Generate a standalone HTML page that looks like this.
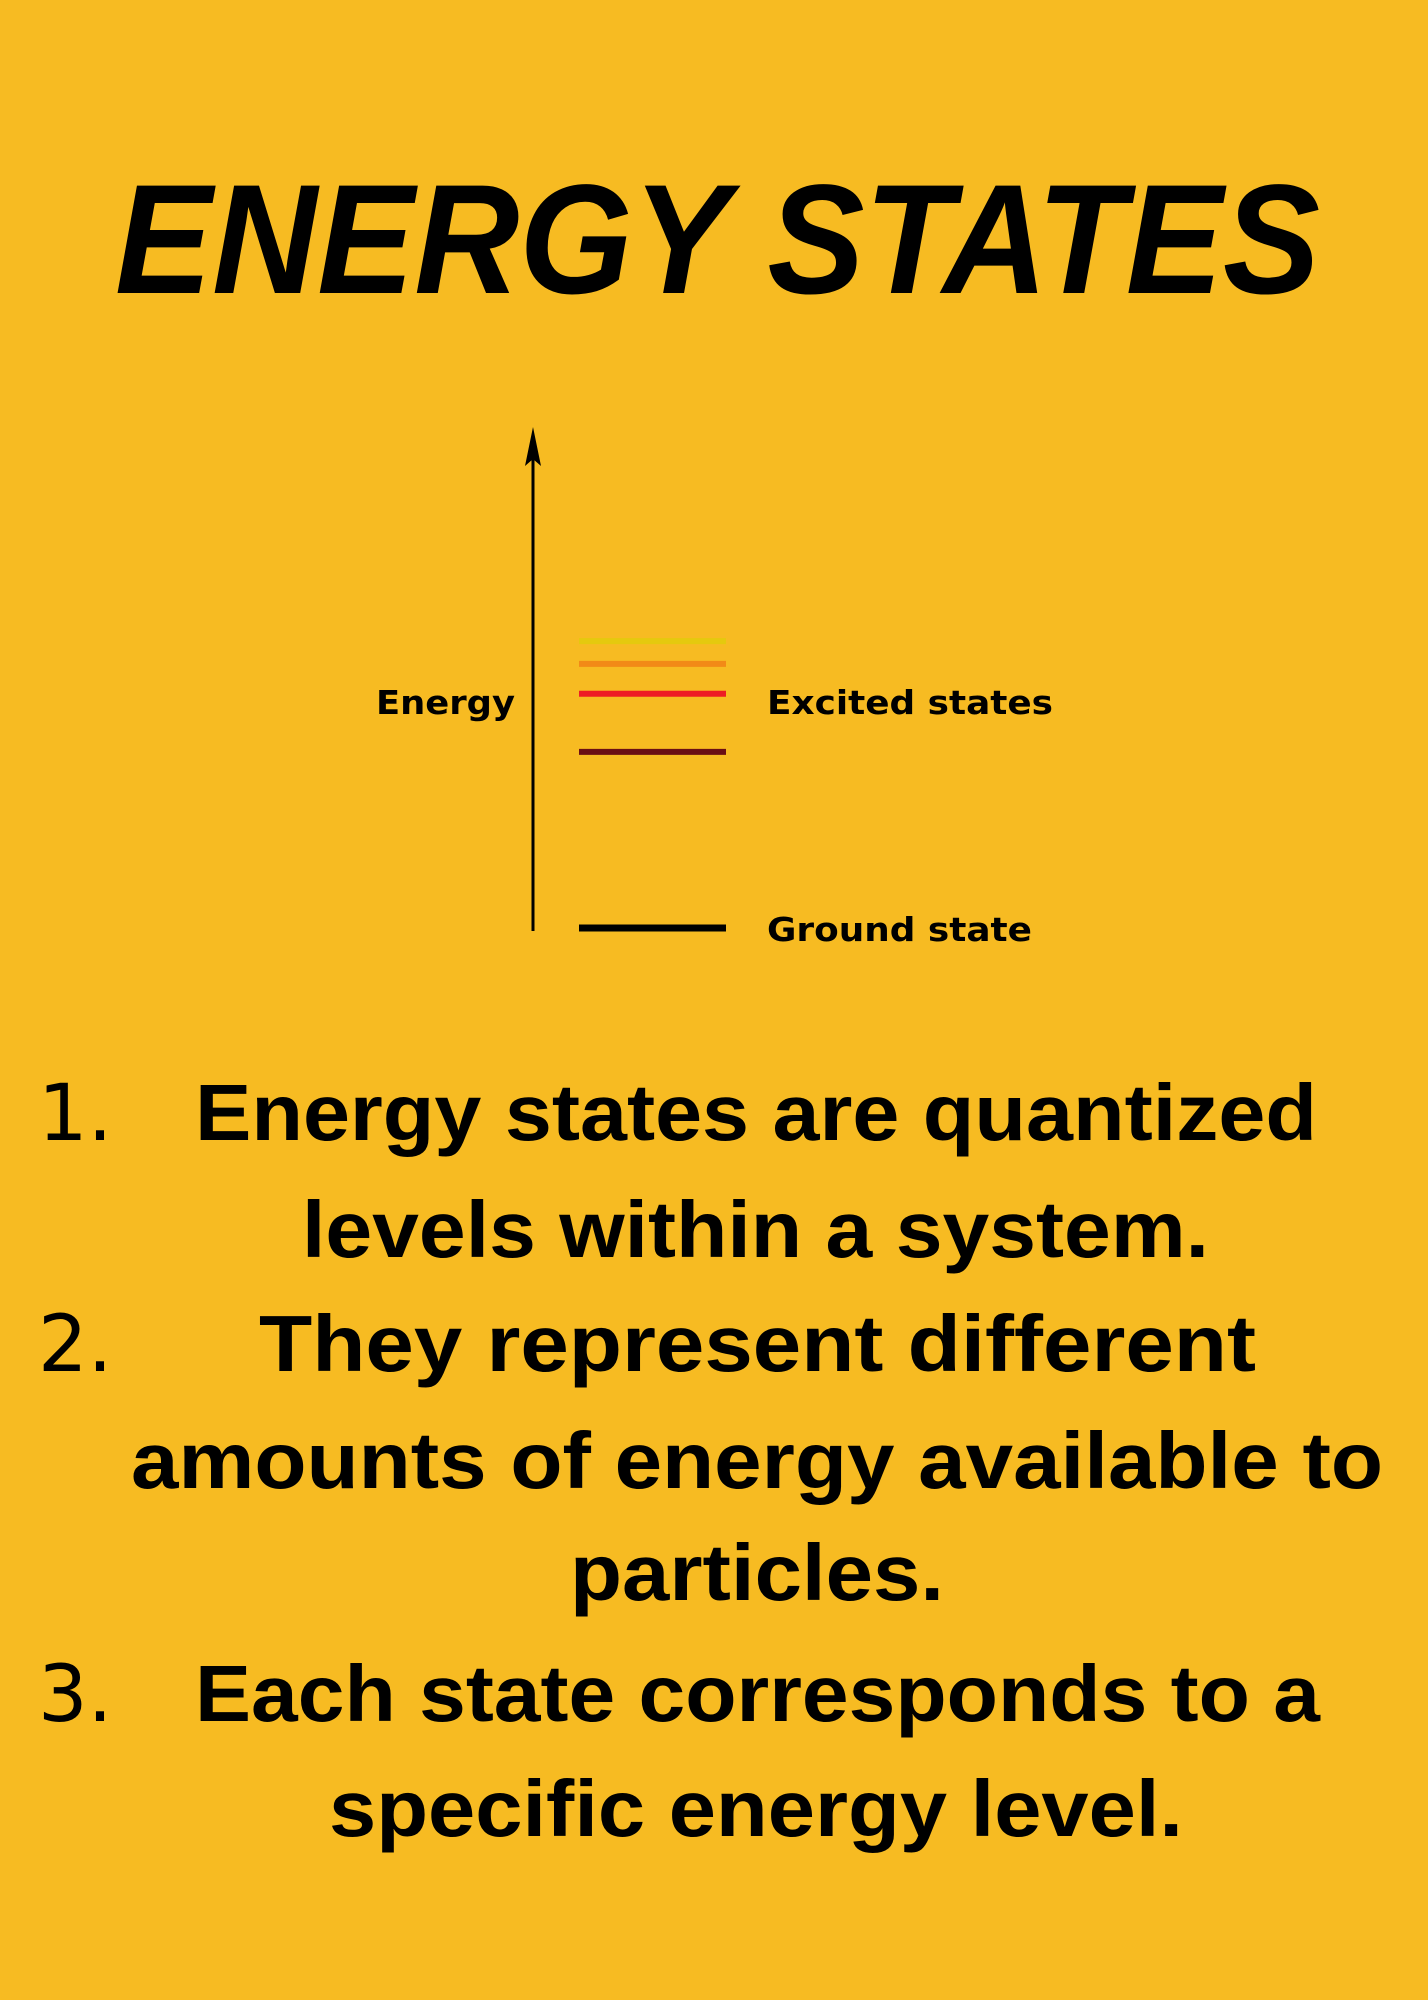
<!DOCTYPE html>
<html><head><meta charset="utf-8"><style>
html,body{margin:0;padding:0;background:#F7BB22;}
svg{display:block}
</style></head><body>
<svg width="1428" height="2000" viewBox="0 0 1428 2000">
<rect width="1428" height="2000" fill="#F7BB22"/>
<text x="115" y="293" font-family="Liberation Sans, sans-serif" font-weight="bold" font-style="italic" font-size="156" textLength="1205" lengthAdjust="spacingAndGlyphs" fill="#000">ENERGY STATES</text>
<g id="diagram">
<line x1="533" y1="440" x2="533" y2="931" stroke="#000" stroke-width="3"/>
<path d="M533 427 L541 466 L533 459 L525 466 Z" fill="#000"/>
<text x="376" y="714" font-family="DejaVu Sans, sans-serif" font-weight="bold" font-size="33" textLength="139" lengthAdjust="spacingAndGlyphs">Energy</text>
<text x="767" y="714" font-family="DejaVu Sans, sans-serif" font-weight="bold" font-size="33" textLength="286" lengthAdjust="spacingAndGlyphs">Excited states</text>
<text x="767" y="941" font-family="DejaVu Sans, sans-serif" font-weight="bold" font-size="33" textLength="265" lengthAdjust="spacingAndGlyphs">Ground state</text>
</g>
<g>
<g font-family="DejaVu Sans, sans-serif" font-size="78" fill="#000">
<text x="38" y="1140">1.</text>
<text x="38" y="1371">2.</text>
<text x="38" y="1721">3.</text>
</g>
<g font-family="Liberation Sans, sans-serif" font-weight="bold" font-size="80" fill="#000">
<text x="195" y="1140" textLength="1122" lengthAdjust="spacingAndGlyphs">Energy states are quantized</text>
<text x="302" y="1257" textLength="907" lengthAdjust="spacingAndGlyphs">levels within a system.</text>
<text x="259" y="1371" textLength="997" lengthAdjust="spacingAndGlyphs">They represent different</text>
<text x="131" y="1488" textLength="1252" lengthAdjust="spacingAndGlyphs">amounts of energy available to</text>
<text x="570" y="1600" textLength="374" lengthAdjust="spacingAndGlyphs">particles.</text>
<text x="195" y="1721" textLength="1125" lengthAdjust="spacingAndGlyphs">Each state corresponds to a</text>
<text x="329" y="1836" textLength="854" lengthAdjust="spacingAndGlyphs">specific energy level.</text>
</g>
</g>
</svg>
<script>
const levelNames = ["ground", "excited-1", "excited-2", "excited-3", "excited-4"];
const levelEnergies = [0, 12.4, 16.5, 18.6, 20.2];
const levelColors = ["#000000", "#6B0E14", "#EE1C24", "#F28A17", "#E5C90E"];
const yScale = e => 928 - e * 14.2;
const NS = "http://www.w3.org/2000/svg";
const g = document.getElementById("diagram");
levelEnergies.forEach((e, i) => {
  const ln = document.createElementNS(NS, "line");
  ln.setAttribute("x1", 579);
  ln.setAttribute("x2", 726);
  ln.setAttribute("y1", yScale(e));
  ln.setAttribute("y2", yScale(e));
  ln.setAttribute("stroke", levelColors[i]);
  ln.setAttribute("stroke-width", i === 0 ? 7 : 6);
  
  
  g.appendChild(ln);
});
</script>
</body></html>
